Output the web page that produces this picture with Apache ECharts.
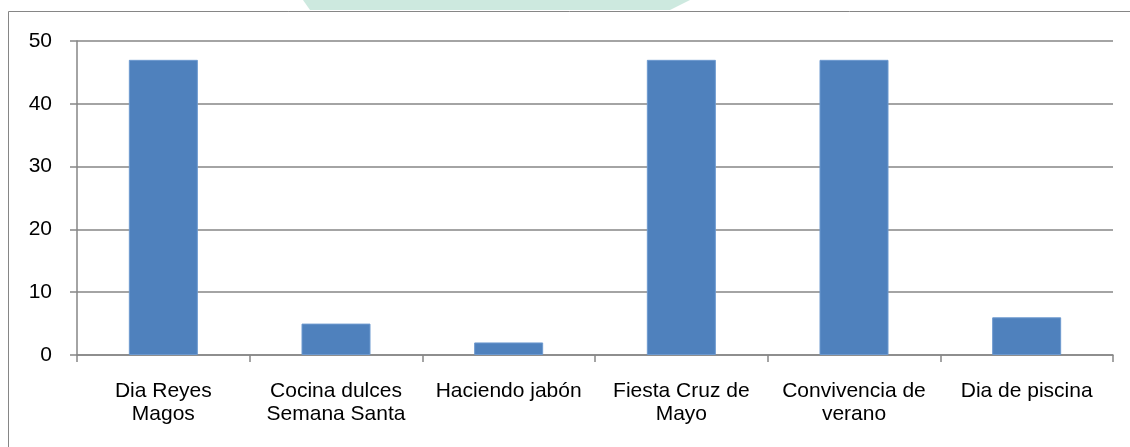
<!DOCTYPE html>
<html>
<head>
<meta charset="utf-8">
<script src="https://cdn.jsdelivr.net/npm/echarts@6/dist/echarts.min.js"></script>
<style>
html,body{margin:0;padding:0;background:#fff;}
#c{width:1130px;height:447px;}
</style>
</head>
<body>
<div id="c"></div>
<script>
const categories = ['Dia Reyes\nMagos', 'Cocina dulces\nSemana Santa', 'Haciendo jabón', 'Fiesta Cruz de\nMayo', 'Convivencia de\nverano', 'Dia de piscina'];
const values = [47, 5, 2, 47, 47, 6];
const yTicks = [0, 10, 20, 30, 40, 50];

const font = 'Liberation Sans, Arial, sans-serif';
const chart = echarts.init(document.getElementById('c'));
chart.setOption({
  animation: false,
  backgroundColor: '#ffffff',
  graphic: [
    {
      type: 'polygon',
      z: -1,
      shape: { points: [[303, 0], [690, 0], [670, 10], [310, 10]] },
      style: { fill: '#cde9df' }
    },
    {
      type: 'polyline',
      shape: { points: [[8.5, 447], [8.5, 11.5], [1130, 11.5]] },
      style: { stroke: '#868686', lineWidth: 1, fill: null }
    }
  ],
  grid: { left: 77, top: 41, right: 17, bottom: 92, containLabel: false },
  xAxis: {
    type: 'category',
    data: categories,
    axisLine: { show: true, lineStyle: { color: '#868686', width: 1.5 } },
    axisTick: { show: true, length: 7, lineStyle: { color: '#868686', width: 1.5 } },
    axisLabel: { color: '#000', fontSize: 21, fontFamily: font, margin: 25, lineHeight: 23, interval: 0 },
    splitLine: { show: false }
  },
  yAxis: {
    type: 'value',
    min: yTicks[0],
    max: yTicks[yTicks.length - 1],
    interval: 10,
    axisLine: { show: true, lineStyle: { color: '#868686', width: 1.5 } },
    axisTick: { show: true, length: 7, lineStyle: { color: '#868686', width: 1.5 } },
    axisLabel: { color: '#000', fontSize: 21, fontFamily: font, margin: 25 },
    splitLine: { show: true, lineStyle: { color: '#868686', width: 1.5 } }
  },
  series: [{
    type: 'bar',
    data: values,
    barWidth: 69,
    itemStyle: { color: '#4f81bd', borderColor: '#6d99cf', borderWidth: 1 }
  }]
});
</script>
</body>
</html>
